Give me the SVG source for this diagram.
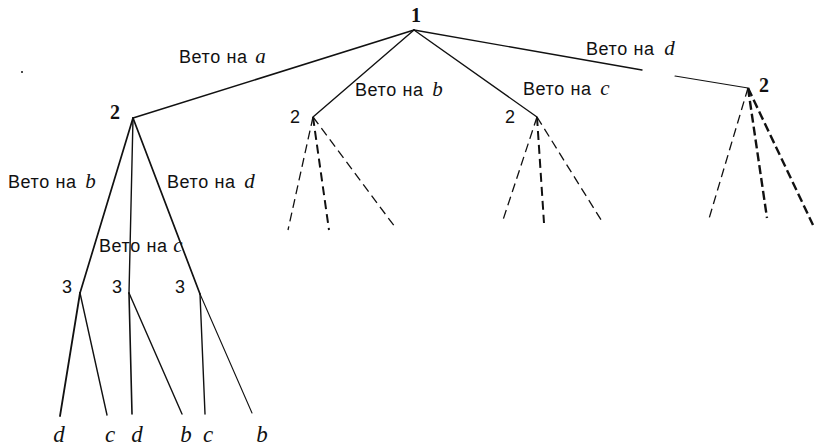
<svg xmlns="http://www.w3.org/2000/svg" width="815" height="447" viewBox="0 0 815 447">
  <style>
    .edge { stroke: #111; stroke-width: 1.4; fill: none; stroke-linecap: round; }
    .dash { stroke: #111; stroke-width: 1.3; fill: none; stroke-dasharray: 9 5; }
    .dash-b { stroke: #111; stroke-width: 2.4; fill: none; stroke-dasharray: 9 4; }
    .lbl { font-family: "Liberation Sans", Arial, sans-serif; font-size: 18px; letter-spacing: 0.6px; fill: #111; }
    .var { font-family: "Liberation Serif", "Times New Roman", serif; font-style: italic; font-size: 21px; letter-spacing: 0; }
    .num { font-family: "Liberation Serif", "Times New Roman", serif; font-size: 20px; fill: #111; text-anchor: middle; }
    .num3 { font-family: "Liberation Sans", Arial, sans-serif; font-size: 18px; fill: #111; text-anchor: middle; }
    .leaf { font-family: "Liberation Serif", "Times New Roman", serif; font-style: italic; font-size: 23px; fill: #111; text-anchor: middle; }
  </style>

  <rect width="815" height="447" fill="#fff"/>

  <!-- connectors -->
  <g id="connectors">
    <!-- from player 1 -->
    <line class="edge" x1="414" y1="30" x2="133" y2="118" style="stroke-width:1.6"/>
    <line class="edge" x1="414" y1="30" x2="313" y2="117"/>
    <line class="edge" x1="414" y1="30" x2="537" y2="117"/>
    <line class="edge" x1="414" y1="30" x2="642" y2="70"/>
    <line class="edge" x1="675" y1="76" x2="748" y2="88" style="stroke-width:1.1"/>

    <!-- from left player 2 -->
    <line class="edge" x1="133" y1="118" x2="80" y2="293" style="stroke-width:1.7"/>
    <line class="edge" x1="133" y1="118" x2="129" y2="293"/>
    <line class="edge" x1="133" y1="118" x2="200" y2="294" style="stroke-width:1.7"/>

    <!-- from player 3 nodes -->
    <line class="edge" x1="80" y1="293" x2="60" y2="416" style="stroke-width:1.8"/>
    <line class="edge" x1="80" y1="293" x2="107" y2="415"/>
    <line class="edge" x1="129" y1="293" x2="132" y2="414" style="stroke-width:1.6"/>
    <line class="edge" x1="129" y1="293" x2="182" y2="414"/>
    <line class="edge" x1="200" y1="294" x2="205" y2="414"/>
    <line class="edge" x1="200" y1="294" x2="252" y2="413" style="stroke-width:1.1"/>

    <!-- unexpanded subtrees -->
    <line class="dash" x1="313" y1="117" x2="288" y2="230"/>
    <line class="dash" x1="313" y1="117" x2="329" y2="230" style="stroke-width:2"/>
    <line class="dash" x1="313" y1="117" x2="395" y2="227"/>

    <line class="dash" x1="537" y1="117" x2="502" y2="223"/>
    <line class="dash" x1="537" y1="117" x2="544" y2="223" style="stroke-width:2"/>
    <line class="dash" x1="537" y1="117" x2="603" y2="223"/>

    <line class="dash" x1="748" y1="88" x2="708" y2="222"/>
    <line class="dash-b" x1="748" y1="88" x2="767" y2="218"/>
    <line class="dash-b" x1="748" y1="88" x2="813" y2="225"/>
  </g>

  <!-- edge labels -->
  <g id="edge-labels">
    <text class="lbl" x="179" y="63">Вето на <tspan class="var" dx="2">a</tspan></text>
    <text class="lbl" x="355" y="96">Вето на <tspan class="var" dx="3">b</tspan></text>
    <text class="lbl" x="523" y="95">Вето на <tspan class="var" dx="3">c</tspan></text>
    <text class="lbl" x="586" y="55">Вето на <tspan class="var" dx="4">d</tspan></text>
    <text class="lbl" x="8" y="188">Вето на <tspan class="var" dx="3">b</tspan></text>
    <text class="lbl" x="167" y="188">Вето на <tspan class="var" dx="3">d</tspan></text>
    <text class="lbl" x="99" y="252">Вето на <tspan class="var" font-size="23px">c</tspan></text>
  </g>

  <!-- decision nodes -->
  <g id="node-1"><text class="num" x="416" y="22" font-weight="bold">1</text></g>
  <g id="node-2a"><text class="num" x="115" y="119" font-weight="bold">2</text></g>
  <g id="node-2b"><text class="num3" x="295" y="123">2</text></g>
  <g id="node-2c"><text class="num3" x="510" y="123">2</text></g>
  <g id="node-2d"><text class="num" x="764" y="92" font-weight="bold">2</text></g>
  <g id="node-3a"><text class="num3" x="67" y="293">3</text></g>
  <g id="node-3b"><text class="num3" x="117" y="293">3</text></g>
  <g id="node-3c"><text class="num3" x="180" y="293">3</text></g>

  <!-- outcomes -->
  <g id="leaf-1"><text class="leaf" x="59" y="442">d</text></g>
  <g id="leaf-2"><text class="leaf" x="110" y="442">c</text></g>
  <g id="leaf-3"><text class="leaf" x="137" y="442">d</text></g>
  <g id="leaf-4"><text class="leaf" x="186" y="442">b</text></g>
  <g id="leaf-5"><text class="leaf" x="208" y="442">c</text></g>
  <g id="leaf-6"><text class="leaf" x="262" y="442">b</text></g>

  <circle cx="22" cy="72" r="1" fill="#111"/>
</svg>
